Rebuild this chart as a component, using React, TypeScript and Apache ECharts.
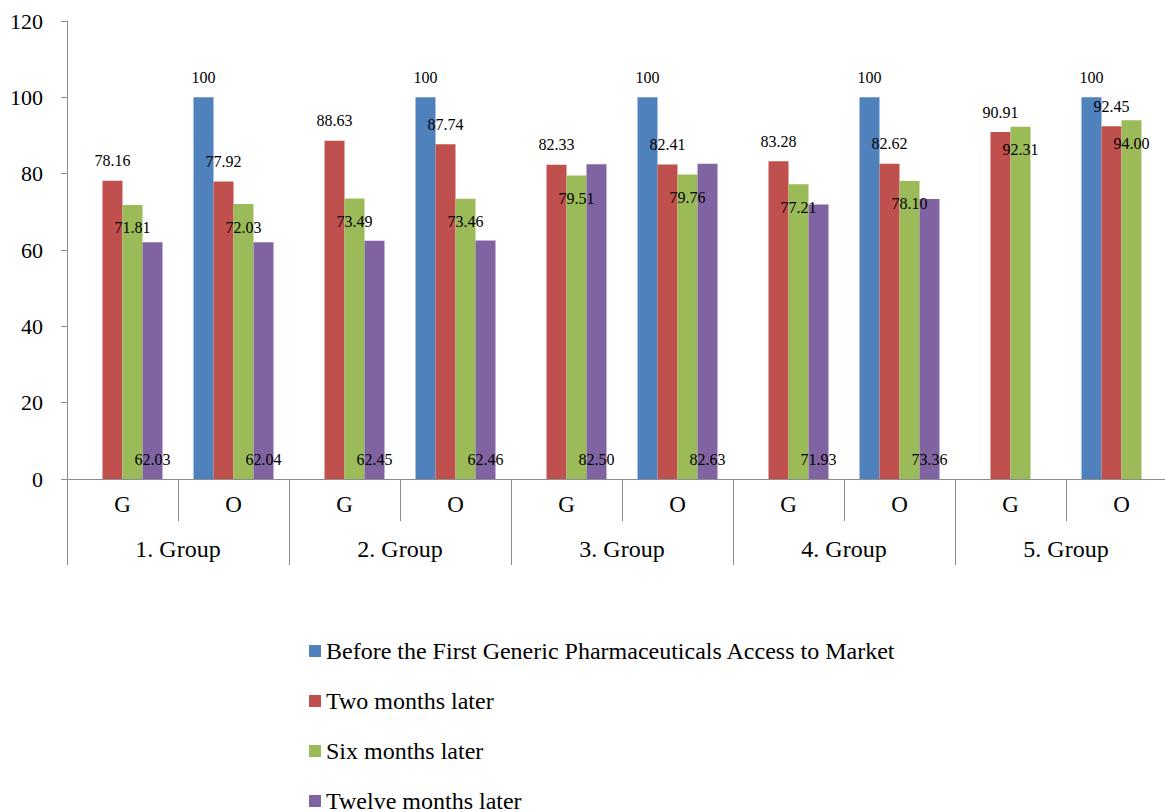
import React, { useEffect, useRef } from "react";
import * as echarts from "echarts";

const categories = ["G", "O", "G", "O", "G", "O", "G", "O", "G", "O"];
const groups = ["1. Group", "2. Group", "3. Group", "4. Group", "5. Group"];
const seriesNames = [
  "Before the First Generic Pharmaceuticals Access to Market",
  "Two months later",
  "Six months later",
  "Twelve months later",
];
const beforeValues = [null, 100, null, 100, null, 100, null, 100, null, 100];
const twoMonths = [78.16, 77.92, 88.63, 87.74, 82.33, 82.41, 83.28, 82.62, 90.91, 92.45];
const sixMonths = [71.81, 72.03, 73.49, 73.46, 79.51, 79.76, 77.21, 78.1, 92.31, 94.0];
const twelveMonths = [62.03, 62.04, 62.45, 62.46, 82.5, 82.63, 71.93, 73.36, null, null];
const yTicks = { min: 0, max: 120, interval: 20 };

const colors = ["#4F81BD", "#C0504D", "#9BBB59", "#8064A2"];
const FONT = "Liberation Serif";
const AXIS_GRAY = "#8c8c8c";

export default function App() {
  const ref = useRef<HTMLDivElement>(null);
  useEffect(() => {
    document.body.style.margin = "0";
    document.body.style.overflow = "hidden";
    document.documentElement.style.overflow = "hidden";
    if (!ref.current) return;
    const chart = echarts.init(ref.current, undefined, { renderer: "svg" });
    const labelStyle = { fontFamily: FONT, fontSize: 16, color: "#000" };
    const mk = (idx: number, data: (number | null)[], label: any) => ({
      name: seriesNames[idx],
      type: "bar",
      data,
      barWidth: 20,
      barGap: "0%",
      itemStyle: { color: colors[idx] },
      label: { show: true, ...labelStyle, ...label },
    });
    chart.setOption({
      animation: false,
      textStyle: { fontFamily: FONT },
      grid: { left: 67, top: 21, height: 458, width: 1110 },
      legend: {
        orient: "vertical",
        left: 304,
        top: 634,
        height: 260,
        itemWidth: 12,
        itemHeight: 12,
        itemGap: 26,
        icon: "rect",
        textStyle: { fontFamily: FONT, fontSize: 24, color: "#000", lineHeight: 24 },
        data: seriesNames,
      },
      xAxis: [
        {
          type: "category",
          data: categories,
          position: "bottom",
          axisLine: { show: true, lineStyle: { color: AXIS_GRAY } },
          axisTick: { show: true, length: 42, interval: 0, lineStyle: { color: AXIS_GRAY } },
          axisLabel: { fontFamily: FONT, fontSize: 23, color: "#000", margin: 14, interval: 0 },
        },
        {
          type: "category",
          data: groups,
          position: "bottom",
          offset: 42,
          axisLine: { show: false },
          axisTick: { show: true, length: 44, interval: 0, lineStyle: { color: AXIS_GRAY } },
          axisLabel: { fontFamily: FONT, fontSize: 24, color: "#000", margin: 16, interval: 0 },
        },
      ],
      yAxis: {
        type: "value",
        min: yTicks.min,
        max: yTicks.max,
        interval: yTicks.interval,
        axisLine: { show: true, lineStyle: { color: AXIS_GRAY } },
        axisTick: { show: true, length: 6, lineStyle: { color: AXIS_GRAY } },
        splitLine: { show: false },
        axisLabel: { fontFamily: FONT, fontSize: 22, color: "#000", margin: 24 },
      },
      series: [
        mk(0, beforeValues, { position: "top", distance: 12, formatter: (p: any) => String(p.value) }),
        mk(1, twoMonths, { position: "top", distance: 12, formatter: (p: any) => p.value.toFixed(2) }),
        mk(2, sixMonths, { position: "insideTop", distance: 15, formatter: (p: any) => p.value.toFixed(2) }),
        mk(3, twelveMonths, { position: "insideBottom", distance: 12, formatter: (p: any) => p.value.toFixed(2) }),
      ],
    });
    return () => chart.dispose();
  }, []);
  return <div ref={ref} style={{ width: 1180, height: 812 }} />;
}
